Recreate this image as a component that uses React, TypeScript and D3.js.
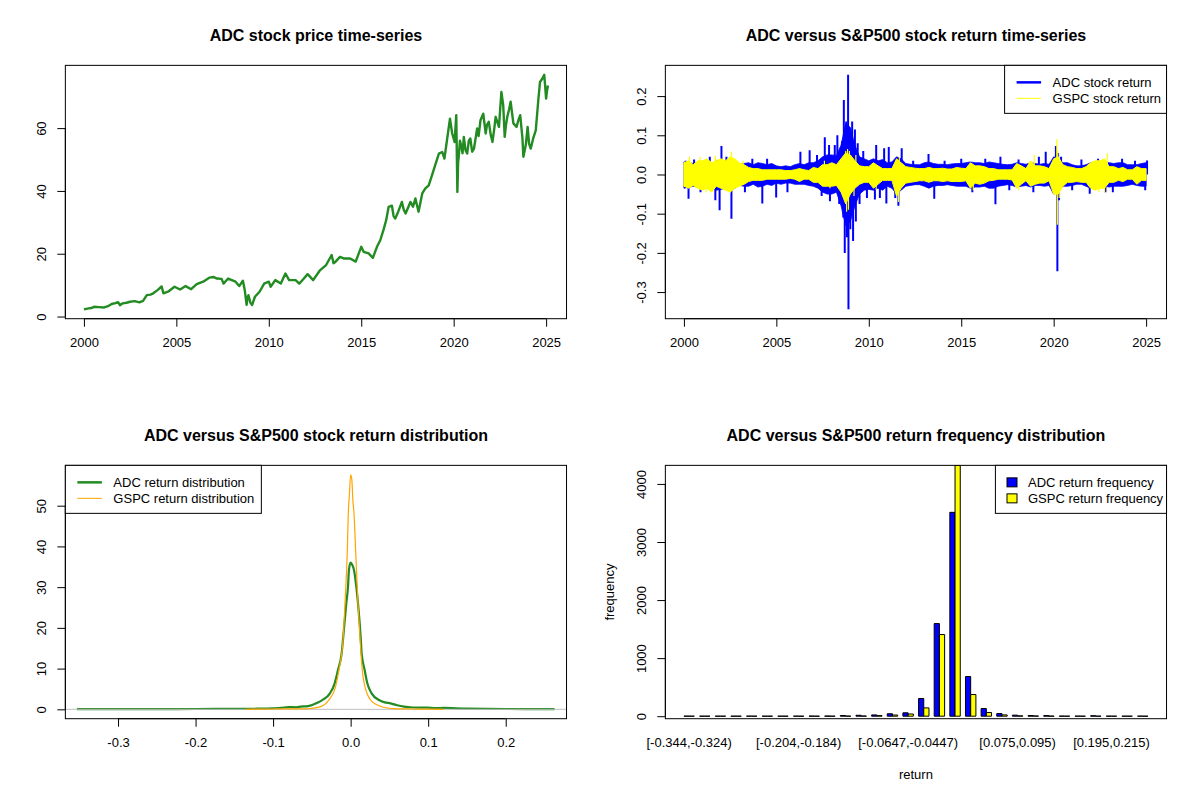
import React, { useEffect, useRef } from "react";
import * as d3 from "d3";

// ---------------- data ----------------
const priceYears = [
  2000.0, 2000.25, 2000.4, 2000.55, 2000.8, 2001.1, 2001.3, 2001.5, 2001.7, 2001.85, 2001.95,
  2002.1, 2002.3, 2002.5, 2002.75, 2003.0, 2003.2, 2003.4, 2003.6, 2003.75, 2004.0, 2004.2,
  2004.3, 2004.55, 2004.9, 2005.2, 2005.5, 2005.8, 2006.1, 2006.45, 2006.8, 2007.0, 2007.2,
  2007.45, 2007.55, 2007.8, 2008.0, 2008.2, 2008.4, 2008.6, 2008.7, 2008.8, 2008.85, 2008.9,
  2009.0, 2009.1, 2009.25, 2009.5, 2009.75, 2010.0, 2010.1, 2010.35, 2010.65, 2010.9, 2011.1,
  2011.45, 2011.65, 2011.85, 2012.1, 2012.4, 2012.75, 2013.1, 2013.4, 2013.5, 2013.6, 2013.85,
  2014.05, 2014.4, 2014.7, 2015.0, 2015.13, 2015.4, 2015.63, 2015.85, 2016.03, 2016.2, 2016.35,
  2016.48, 2016.66, 2016.75, 2016.84, 2017.0, 2017.2, 2017.3, 2017.4, 2017.66, 2017.8, 2017.93,
  2018.1, 2018.3, 2018.47, 2018.65, 2018.83, 2019.0, 2019.2, 2019.38, 2019.5, 2019.65, 2019.8,
  2019.92, 2020.05, 2020.14, 2020.2, 2020.24, 2020.28, 2020.34, 2020.4, 2020.48, 2020.55,
  2020.64, 2020.73, 2020.82, 2020.9, 2021.0, 2021.1, 2021.27, 2021.35, 2021.45, 2021.6, 2021.73,
  2021.8, 2021.9, 2022.0, 2022.1, 2022.2, 2022.27, 2022.45, 2022.58, 2022.68, 2022.76, 2022.83,
  2022.9, 2023.0, 2023.08, 2023.23, 2023.4, 2023.5, 2023.6, 2023.72, 2023.77, 2023.9, 2024.0,
  2024.08, 2024.17, 2024.3, 2024.44, 2024.57, 2024.67, 2024.8, 2024.9, 2025.0, 2025.05, 2025.1,
];
const priceValues = [
  2.3, 2.6, 2.7, 3.1, 3.0, 2.9, 3.3, 4.0, 4.3, 4.6, 3.6,
  4.2, 4.4, 4.7, 4.9, 4.5, 5.0, 6.8, 7.0, 7.4, 8.5, 9.6,
  7.4, 7.9, 9.5, 8.6, 9.7, 8.7, 10.3, 11.1, 12.4, 12.6, 12.1,
  12.0, 10.5, 12.1, 11.6, 11.1, 9.7, 11.4, 8.4, 3.7, 6.0, 6.8,
  4.5, 3.7, 6.3, 7.9, 10.5, 11.1, 9.5, 11.6, 10.5, 13.7, 11.6,
  11.6, 10.5, 11.8, 13.5, 11.6, 14.6, 16.4, 19.6, 17.0, 17.4, 19.0,
  18.5, 18.5, 17.5, 22.2, 20.6, 20.1, 18.7, 22.2, 24.3, 27.5, 30.7,
  34.9, 35.3, 32.0, 31.2, 33.4, 36.5, 34.0, 32.8, 36.5, 35.0, 37.6,
  33.4, 39.2, 40.8, 41.8, 45.0, 48.2, 51.9, 52.4, 50.3, 56.7, 63.0,
  58.3, 55.6, 64.1, 39.7, 49.0, 51.4, 56.0, 54.6, 52.0, 57.2,
  53.0, 51.9, 56.0, 56.7, 52.5, 53.5, 59.9, 57.5, 62.5, 64.6, 58.3,
  61.0, 62.0, 58.0, 55.6, 60.0, 63.6, 60.4, 71.5, 67.3, 57.2, 61.0,
  63.6, 66.0, 68.4, 61.5, 60.4, 62.5, 64.1, 56.7, 50.9, 54.6, 60.4,
  55.0, 53.5, 56.7, 59.3, 68.4, 74.7, 75.8, 77.0, 69.4, 72.0, 73.6,
];

// quarterly envelope of daily returns (2000.00 .. 2025.00 every quarter)
const adcHi = [
  0.032, 0.030, 0.028, 0.030, 0.030, 0.033, 0.028, 0.035, 0.035, 0.032, 0.038, 0.030,
  0.025, 0.028, 0.030, 0.025, 0.030, 0.028, 0.025, 0.028, 0.022, 0.020, 0.022, 0.020,
  0.025, 0.028, 0.025, 0.030, 0.030, 0.035, 0.045, 0.050, 0.050, 0.048, 0.075, 0.130,
  0.120, 0.075, 0.045, 0.040, 0.035, 0.040, 0.035, 0.038, 0.030, 0.032, 0.045, 0.040,
  0.028, 0.026, 0.025, 0.025, 0.030, 0.032, 0.028, 0.026, 0.026, 0.025, 0.027, 0.028,
  0.028, 0.030, 0.032, 0.030, 0.030, 0.028, 0.032, 0.030, 0.028, 0.026, 0.025, 0.026,
  0.030, 0.028, 0.026, 0.030, 0.028, 0.026, 0.028, 0.026, 0.045, 0.040, 0.030, 0.030,
  0.025, 0.022, 0.022, 0.025, 0.030, 0.032, 0.030, 0.032, 0.030, 0.028, 0.030, 0.030,
  0.025, 0.025, 0.025, 0.028, 0.030,
];
const adcLo = [
  -0.035, -0.033, -0.030, -0.032, -0.030, -0.035, -0.032, -0.040, -0.038, -0.035, -0.042, -0.035,
  -0.028, -0.030, -0.030, -0.025, -0.032, -0.030, -0.025, -0.028, -0.022, -0.025, -0.022, -0.022,
  -0.025, -0.025, -0.025, -0.028, -0.030, -0.035, -0.045, -0.050, -0.050, -0.045, -0.080, -0.130,
  -0.120, -0.080, -0.050, -0.040, -0.038, -0.040, -0.035, -0.040, -0.030, -0.035, -0.050, -0.040,
  -0.030, -0.028, -0.026, -0.026, -0.030, -0.035, -0.030, -0.028, -0.028, -0.026, -0.028, -0.030,
  -0.030, -0.030, -0.035, -0.032, -0.032, -0.030, -0.035, -0.035, -0.030, -0.028, -0.026, -0.028,
  -0.032, -0.030, -0.028, -0.032, -0.028, -0.028, -0.030, -0.028, -0.050, -0.045, -0.030, -0.030,
  -0.028, -0.025, -0.025, -0.030, -0.035, -0.035, -0.032, -0.030, -0.032, -0.030, -0.030, -0.030,
  -0.028, -0.025, -0.028, -0.030, -0.030,
];
const gspcHi = [
  0.030, 0.035, 0.025, 0.035, 0.035, 0.040, 0.030, 0.035, 0.040, 0.035, 0.045, 0.040,
  0.030, 0.025, 0.018, 0.015, 0.015, 0.012, 0.012, 0.012, 0.012, 0.012, 0.010, 0.010,
  0.012, 0.015, 0.012, 0.010, 0.018, 0.015, 0.025, 0.025, 0.030, 0.025, 0.040, 0.055,
  0.050, 0.035, 0.022, 0.020, 0.020, 0.030, 0.022, 0.015, 0.015, 0.015, 0.040, 0.030,
  0.020, 0.018, 0.016, 0.015, 0.015, 0.018, 0.015, 0.015, 0.016, 0.014, 0.014, 0.018,
  0.016, 0.015, 0.030, 0.022, 0.022, 0.020, 0.015, 0.015, 0.012, 0.012, 0.012, 0.012,
  0.028, 0.022, 0.015, 0.035, 0.022, 0.022, 0.020, 0.015, 0.040, 0.045, 0.025, 0.020,
  0.018, 0.015, 0.015, 0.020, 0.030, 0.035, 0.035, 0.040, 0.020, 0.020, 0.015, 0.018,
  0.012, 0.012, 0.020, 0.015, 0.015,
];
const gspcLo = [
  -0.030, -0.035, -0.028, -0.035, -0.040, -0.035, -0.045, -0.030, -0.035, -0.040, -0.045, -0.035,
  -0.030, -0.025, -0.018, -0.015, -0.015, -0.015, -0.012, -0.012, -0.012, -0.012, -0.012, -0.010,
  -0.012, -0.018, -0.012, -0.012, -0.020, -0.020, -0.030, -0.030, -0.030, -0.028, -0.045, -0.075,
  -0.050, -0.035, -0.025, -0.020, -0.020, -0.035, -0.025, -0.015, -0.015, -0.015, -0.055, -0.035,
  -0.022, -0.020, -0.018, -0.016, -0.016, -0.020, -0.016, -0.016, -0.018, -0.016, -0.018, -0.018,
  -0.018, -0.016, -0.035, -0.022, -0.025, -0.022, -0.016, -0.015, -0.012, -0.012, -0.012, -0.014,
  -0.035, -0.025, -0.016, -0.030, -0.025, -0.022, -0.022, -0.016, -0.050, -0.050, -0.030, -0.020,
  -0.020, -0.018, -0.020, -0.020, -0.035, -0.040, -0.035, -0.035, -0.020, -0.020, -0.015, -0.018,
  -0.012, -0.012, -0.025, -0.015, -0.015,
];

// individual large daily returns (spikes)
const adcSpikeYears = [
  2000.1, 2000.25, 2000.55, 2000.9, 2001.4, 2001.7, 2001.93, 2002.03, 2002.3, 2002.57, 2003.3,
  2003.7, 2004.24, 2004.5, 2004.99, 2005.6, 2006.3, 2006.8, 2007.2, 2007.45, 2007.62, 2007.85,
  2007.9, 2008.16, 2008.3, 2008.4, 2008.55, 2008.62, 2008.65, 2008.7, 2008.78, 2008.82, 2008.88,
  2008.9, 2008.95, 2009.0, 2009.1, 2009.15, 2009.25, 2009.3, 2009.4, 2009.5, 2009.7, 2009.9,
  2010.33, 2010.4, 2010.6, 2010.83, 2010.95, 2011.08, 2011.43, 2011.6, 2011.78, 2012.4, 2013.23,
  2013.54, 2014.1, 2015.0, 2015.6, 2016.3, 2016.85, 2017.12, 2017.6, 2018.1, 2018.9, 2019.2,
  2019.57, 2020.12, 2020.2, 2020.24, 2020.29, 2020.4, 2021.0, 2021.5, 2021.95, 2022.4, 2022.8,
  2023.2, 2023.7, 2024.4, 2024.95, 2025.05,
];
const adcSpikeValues = [
  0.035, -0.062, 0.038, -0.045, 0.045, -0.066, -0.091, 0.073, 0.045, -0.113, -0.045,
  0.040, -0.074, 0.040, -0.059, -0.045, 0.058, 0.062, 0.050, -0.055, 0.095, 0.075,
  -0.068, 0.075, 0.1, -0.075, 0.085, -0.11, 0.19, -0.2, 0.135, -0.16, 0.2545,
  -0.344, 0.12, -0.14, 0.135, -0.17, 0.115, -0.12, 0.08, -0.075, 0.06, -0.06,
  -0.064, 0.075, -0.06, 0.067, -0.074, 0.07, -0.06, -0.08, 0.067, 0.035, 0.052,
  -0.062, 0.035, 0.04, -0.045, 0.04, -0.076, 0.045, -0.04, 0.038, -0.045, 0.045,
  0.058, 0.073, -0.247, 0.055, -0.066, 0.045, -0.04, 0.038, -0.049, 0.04, -0.045,
  -0.045, 0.04, 0.035, -0.04, 0.036,
];
const gspcSpikeYears = [
  2000.3, 2000.87, 2001.2, 2001.7, 2002.5, 2002.57, 2003.2, 2007.6, 2007.9, 2008.75, 2008.8,
  2008.85, 2008.9, 2008.95, 2009.2, 2009.3, 2010.4, 2011.6, 2011.65, 2015.65, 2018.1, 2018.95,
  2020.17, 2020.2, 2020.22, 2020.3, 2022.45, 2022.75, 2022.9,
];
const gspcSpikeValues = [
  0.045, 0.045, -0.045, 0.048, -0.045, 0.058, 0.035, 0.035, -0.035, 0.06, -0.095,
  0.065, -0.09, 0.06, -0.055, 0.05, -0.04, -0.07, 0.045, -0.04, -0.04, 0.05,
  0.09, -0.128, 0.06, -0.06, -0.045, -0.045, 0.054,
];

// kernel density estimates
const adcDensX = [
  -0.353, -0.3, -0.25, -0.2, -0.15, -0.12, -0.1, -0.09, -0.08, -0.07, -0.0645, -0.055, -0.0495,
  -0.043, -0.0366, -0.0267, -0.0206, -0.0163, -0.0116, -0.0095, -0.0056, -0.0034, -0.0022, 0.0,
  0.002, 0.0043, 0.0073, 0.0095, 0.0129, 0.0142, 0.0181, 0.0215, 0.0271, 0.0366, 0.044, 0.0516,
  0.06, 0.0688, 0.08, 0.0989, 0.11, 0.12, 0.15, 0.2, 0.25, 0.263,
];
const adcDensY = [
  0.05, 0.05, 0.06, 0.08, 0.1, 0.15, 0.25, 0.35, 0.55, 0.5, 0.65, 0.8, 1.06,
  1.6, 2.28, 3.92, 6.38, 9.65, 13.75, 17.85, 26.0, 30.1, 34.2, 36.0,
  35.5, 34.2, 30.1, 26.0, 17.85, 13.75, 9.65, 6.38, 3.92, 2.28, 1.7, 1.47,
  1.0, 0.65, 0.45, 0.4, 0.3, 0.35, 0.15, 0.08, 0.05, 0.05,
];
const gspcDensX = [
  -0.135, -0.12, -0.1, -0.09, -0.08, -0.07, -0.06, -0.0516, -0.0387, -0.028, -0.0194, -0.0151,
  -0.0095, -0.0073, -0.0043, -0.003, -0.0015, 0.0, 0.0015, 0.003, 0.0043, 0.0065, 0.0095, 0.012,
  0.015, 0.0185, 0.0258, 0.0344, 0.0473, 0.06, 0.08, 0.09, 0.1, 0.12,
];
const gspcDensY = [
  0.0, 0.03, 0.08, 0.1, 0.12, 0.12, 0.12, 0.2, 0.65, 2.28, 5.56, 9.65,
  17.85, 26.0, 38.8, 48.2, 53.0, 57.6, 56.5, 51.0, 48.2, 38.8, 26.0, 17.85,
  9.65, 5.56, 2.28, 1.06, 0.32, 0.12, 0.08, 0.06, 0.03, 0.0,
];

// frequency table of returns
const binLabels = [
  "[-0.344,-0.324)", "[-0.324,-0.304)", "[-0.304,-0.284)", "[-0.284,-0.264)", "[-0.264,-0.244)",
  "[-0.244,-0.224)", "[-0.224,-0.204)", "[-0.204,-0.184)", "[-0.184,-0.164)", "[-0.164,-0.144)",
  "[-0.144,-0.124)", "[-0.124,-0.104)", "[-0.104,-0.0846)", "[-0.0846,-0.0647)", "[-0.0647,-0.0447)",
  "[-0.0447,-0.0248)", "[-0.0248,-0.00485)", "[-0.00485,0.0151)", "[0.0151,0.0351)", "[0.0351,0.055)",
  "[0.055,0.075)", "[0.075,0.095)", "[0.095,0.115)", "[0.115,0.135)", "[0.135,0.155)",
  "[0.155,0.175)", "[0.175,0.195)", "[0.195,0.215)", "[0.215,0.235)", "[0.235,0.255]",
];
const shownLabelIndex = [0, 7, 14, 21, 27];
const adcFreq = [
  1, 0, 0, 0, 1, 0, 0, 1, 2, 3, 12, 16, 22, 42, 58,
  305, 1595, 3511, 683, 132, 45, 18, 12, 10, 2, 1, 8, 1, 0, 1,
];
const gspcFreq = [
  0, 0, 0, 0, 0, 0, 0, 0, 0, 0, 2, 3, 10, 20, 38,
  143, 1406, 4320, 373, 63, 22, 6, 4, 2, 0, 0, 0, 0, 0, 0,
];

// axis ticks
const yearTicks = [2000, 2005, 2010, 2015, 2020, 2025];
const priceTicks = [0, 20, 40, 60];
const returnTicks = [-0.3, -0.2, -0.1, 0.0, 0.1, 0.2];
const densXTicks = [-0.3, -0.2, -0.1, 0.0, 0.1, 0.2];
const densYTicks = [0, 10, 20, 30, 40, 50];
const freqTicks = [0, 1000, 2000, 3000, 4000];

// ---------------- layout ----------------
const PW = 600;
const PH = 400;
const LINE = 15.94;
const MAR = { l: 4.1 * LINE, r: 2.1 * LINE, t: 4.1 * LINE, b: 5.1 * LINE };
const FONT = "'Liberation Sans', Arial, Helvetica, sans-serif";
const FS = 13;
const TICK = 8;

function rRange(min: number, max: number): [number, number] {
  const r = max - min;
  return [min - 0.04 * r, max + 0.04 * r];
}

function panel(root: any, ox: number, oy: number, id: string, title: string) {
  const g = root.append("g").attr("transform", `translate(${ox},${oy})`);
  const x0 = MAR.l, x1 = PW - MAR.r, y0 = MAR.t, y1 = PH - MAR.b;
  g.append("clipPath").attr("id", id).append("rect")
    .attr("x", x0).attr("y", y0).attr("width", x1 - x0).attr("height", y1 - y0);
  g.append("text").attr("x", (x0 + x1) / 2).attr("y", 35)
    .attr("text-anchor", "middle").attr("dominant-baseline", "central")
    .attr("font-family", FONT).attr("font-size", 16).attr("font-weight", "bold")
    .text(title);
  return { g, x0, x1, y0, y1 };
}

function box(p: any) {
  p.g.append("rect").attr("x", p.x0).attr("y", p.y0)
    .attr("width", p.x1 - p.x0).attr("height", p.y1 - p.y0)
    .attr("fill", "none").attr("stroke", "#000").attr("stroke-width", 1);
}

function axisBottom(p: any, scale: any, ticks: number[], fmt: (v: number) => string) {
  const ax = d3.axisBottom(scale).tickValues(ticks).tickFormat(fmt as any)
    .tickSizeOuter(0).tickSizeInner(TICK);
  const s = p.g.append("g").attr("transform", `translate(0,${p.y1})`).call(ax);
  s.select(".domain").remove();
  s.append("line").attr("x1", scale(ticks[0])).attr("x2", scale(ticks[ticks.length - 1]))
    .attr("stroke", "#000");
  s.selectAll(".tick line").attr("stroke", "#000");
  s.selectAll(".tick text").attr("y", 1.5 * LINE).attr("dy", "0.35em")
    .attr("font-family", FONT).attr("font-size", FS).attr("fill", "#000");
}

function axisLeft(p: any, scale: any, ticks: number[], fmt: (v: number) => string) {
  const ax = d3.axisLeft(scale).tickValues(ticks).tickFormat(fmt as any)
    .tickSizeOuter(0).tickSizeInner(TICK);
  const s = p.g.append("g").attr("transform", `translate(${p.x0},0)`).call(ax);
  s.select(".domain").remove();
  s.append("line").attr("y1", scale(ticks[0])).attr("y2", scale(ticks[ticks.length - 1]))
    .attr("stroke", "#000");
  s.selectAll(".tick line").attr("stroke", "#000");
  s.selectAll(".tick text").attr("transform", "rotate(-90)")
    .attr("x", 0).attr("y", -1.5 * LINE).attr("dy", "0.35em")
    .attr("text-anchor", "middle")
    .attr("font-family", FONT).attr("font-size", FS).attr("fill", "#000");
}

type LegendRow = { label: string; kind: "line" | "box"; color: string; width?: number };

function legend(p: any, x: number, w: number, rows: LegendRow[]) {
  const y = p.y0;
  const g = p.g.append("g");
  g.append("rect").attr("x", x).attr("y", y).attr("width", w).attr("height", 48)
    .attr("fill", "#fff").attr("stroke", "#000");
  rows.forEach((r, i) => {
    const cy = y + 17 + i * 16;
    if (r.kind === "line") {
      g.append("line").attr("x1", x + 12).attr("x2", x + 36.5).attr("y1", cy).attr("y2", cy)
        .attr("stroke", r.color).attr("stroke-width", r.width || 1);
      g.append("text").attr("x", x + 48).attr("y", cy).attr("dy", "0.35em")
        .attr("font-family", FONT).attr("font-size", FS).text(r.label);
    } else {
      g.append("rect").attr("x", x + 11.6).attr("y", cy - 4.5).attr("width", 10).attr("height", 9)
        .attr("fill", r.color).attr("stroke", "#000");
      g.append("text").attr("x", x + 32.6).attr("y", cy).attr("dy", "0.35em")
        .attr("font-family", FONT).attr("font-size", FS).text(r.label);
    }
  });
}

const fmt1 = (v: number) => v.toFixed(1);
const fmt0 = (v: number) => String(v);

function drawPrice(root: any) {
  const p = panel(root, 0, 0, "clipA", "ADC stock price time-series");
  const x = d3.scaleLinear().domain(rRange(d3.min(priceYears)!, d3.max(priceYears)!)).range([p.x0, p.x1]);
  const y = d3.scaleLinear().domain(rRange(d3.min(priceValues)!, d3.max(priceValues)!)).range([p.y1, p.y0]);
  const line = d3.line<number>().x((d, i) => x(priceYears[i])).y((d) => y(d));
  p.g.append("path").attr("d", line(priceValues)).attr("fill", "none")
    .attr("stroke", "forestgreen").attr("stroke-width", 2.4).attr("stroke-linejoin", "round")
    .attr("clip-path", "url(#clipA)");
  axisBottom(p, x, yearTicks, fmt0);
  axisLeft(p, y, priceTicks, fmt0);
  box(p);
}

function drawReturns(root: any) {
  const p = panel(root, PW, 0, "clipB", "ADC versus S&P500 stock return time-series");
  const x = d3.scaleLinear().domain(rRange(d3.min(priceYears)!, d3.max(priceYears)!)).range([p.x0, p.x1]);
  const all = [...adcHi, ...adcLo, ...adcSpikeValues, ...gspcHi, ...gspcLo, ...gspcSpikeValues];
  const y = d3.scaleLinear().domain(rRange(d3.min(all)!, d3.max(all)!)).range([p.y1, p.y0]);
  const qt = d3.range(adcHi.length).map((i) => 2000 + i * 0.25);
  const idx = d3.range(qt.length);
  const clip = p.g.append("g").attr("clip-path", "url(#clipB)");

  const band = (hi: number[], lo: number[]) =>
    d3.area<number>().x((i) => x(qt[i])).y0((i) => y(lo[i])).y1((i) => y(hi[i]))(idx);

  clip.append("path").attr("d", band(adcHi, adcLo)).attr("fill", "blue")
    .attr("stroke", "blue").attr("stroke-width", 0.8);
  adcSpikeYears.forEach((t, i) => {
    clip.append("line").attr("x1", x(t)).attr("x2", x(t)).attr("y1", y(0)).attr("y2", y(adcSpikeValues[i]))
      .attr("stroke", "blue").attr("stroke-width", 2);
  });
  clip.append("path").attr("d", band(gspcHi, gspcLo)).attr("fill", "yellow")
    .attr("stroke", "yellow").attr("stroke-width", 1);
  gspcSpikeYears.forEach((t, i) => {
    clip.append("line").attr("x1", x(t)).attr("x2", x(t)).attr("y1", y(0)).attr("y2", y(gspcSpikeValues[i]))
      .attr("stroke", "yellow").attr("stroke-width", 1.2);
  });

  axisBottom(p, x, yearTicks, fmt0);
  axisLeft(p, y, returnTicks, fmt1);
  box(p);
  legend(p, 404.6, p.x1 - 404.6, [
    { label: "ADC stock return", kind: "line", color: "blue", width: 2.5 },
    { label: "GSPC stock return", kind: "line", color: "yellow", width: 1 },
  ]);
}

function drawDensity(root: any) {
  const p = panel(root, 0, PH, "clipC", "ADC versus S&P500 stock return distribution");
  const x = d3.scaleLinear().domain(rRange(d3.min(adcSpikeValues)!, d3.max(adcSpikeValues)!)).range([p.x0, p.x1]);
  const y = d3.scaleLinear().domain(rRange(0, d3.max([...adcDensY, ...gspcDensY])!)).range([p.y1, p.y0]);
  const clip = p.g.append("g").attr("clip-path", "url(#clipC)");
  const line = d3.line<[number, number]>().x((d) => x(d[0])).y((d) => y(d[1])).curve(d3.curveMonotoneX);
  clip.append("path").attr("d", line(d3.zip(adcDensX, adcDensY) as any))
    .attr("fill", "none").attr("stroke", "forestgreen").attr("stroke-width", 2.2);
  clip.append("line").attr("x1", p.x0).attr("x2", p.x1).attr("y1", y(0)).attr("y2", y(0))
    .attr("stroke", "#bebebe").attr("stroke-width", 1);
  clip.append("path").attr("d", line(d3.zip(gspcDensX, gspcDensY) as any))
    .attr("fill", "none").attr("stroke", "orange").attr("stroke-width", 1.2);
  axisBottom(p, x, densXTicks, fmt1);
  axisLeft(p, y, densYTicks, fmt0);
  box(p);
  legend(p, p.x0, 196, [
    { label: "ADC return distribution", kind: "line", color: "forestgreen", width: 2.5 },
    { label: "GSPC return distribution", kind: "line", color: "orange", width: 1 },
  ]);
}

function drawFreq(root: any) {
  const p = panel(root, PW, PH, "clipD", "ADC versus S&P500 return frequency distribution");
  const n = adcFreq.length;
  const x = d3.scaleLinear().domain(rRange(1, 3 * n)).range([p.x0, p.x1]);
  const M = d3.max([...adcFreq, ...gspcFreq])!;
  const y = d3.scaleLinear().domain([-0.01 * M, M]).range([p.y1, p.y0]);
  const bar = (u0: number, u1: number, v: number) => {
    const a = x(u0), b = x(u1), t = y(v), z = y(0);
    return `M${a},${z}H${b}V${t}H${a}Z`;
  };
  const g = p.g.append("g").attr("clip-path", "url(#clipD)");
  adcFreq.forEach((v, i) => {
    g.append("path").attr("d", bar(3 * i + 1, 3 * i + 2, v)).attr("fill", "blue").attr("stroke", "#000");
    g.append("path").attr("d", bar(3 * i + 2, 3 * i + 3, gspcFreq[i])).attr("fill", "yellow").attr("stroke", "#000");
  });
  shownLabelIndex.forEach((i) => {
    p.g.append("text").attr("x", x(3 * i + 2)).attr("y", p.y1 + 1.5 * LINE).attr("dy", "0.35em")
      .attr("text-anchor", "middle").attr("font-family", FONT).attr("font-size", FS).text(binLabels[i]);
  });
  axisLeft(p, y, freqTicks, fmt0);
  box(p);
  p.g.append("text").attr("x", (p.x0 + p.x1) / 2).attr("y", p.y1 + 3.5 * LINE).attr("dy", "0.35em")
    .attr("text-anchor", "middle").attr("font-family", FONT).attr("font-size", FS).text("return");
  p.g.append("text").attr("transform", `translate(${p.x0 - 3.5 * LINE},${(p.y0 + p.y1) / 2}) rotate(-90)`)
    .attr("dy", "0.35em").attr("text-anchor", "middle").attr("font-family", FONT).attr("font-size", FS)
    .text("frequency");
  legend(p, 395.4, p.x1 - 395.4, [
    { label: "ADC return frequency", kind: "box", color: "blue" },
    { label: "GSPC return frequency", kind: "box", color: "yellow" },
  ]);
}

export default function App() {
  const ref = useRef<SVGSVGElement>(null);
  useEffect(() => {
    const svg = d3.select(ref.current);
    svg.selectAll("*").remove();
    svg.append("rect").attr("width", 1200).attr("height", 800).attr("fill", "#fff");
    drawPrice(svg);
    drawReturns(svg);
    drawDensity(svg);
    drawFreq(svg);
  }, []);
  return (
    <svg ref={ref} width={1200} height={800}
      style={{ position: "absolute", left: 0, top: 0, display: "block", background: "#fff" }} />
  );
}
